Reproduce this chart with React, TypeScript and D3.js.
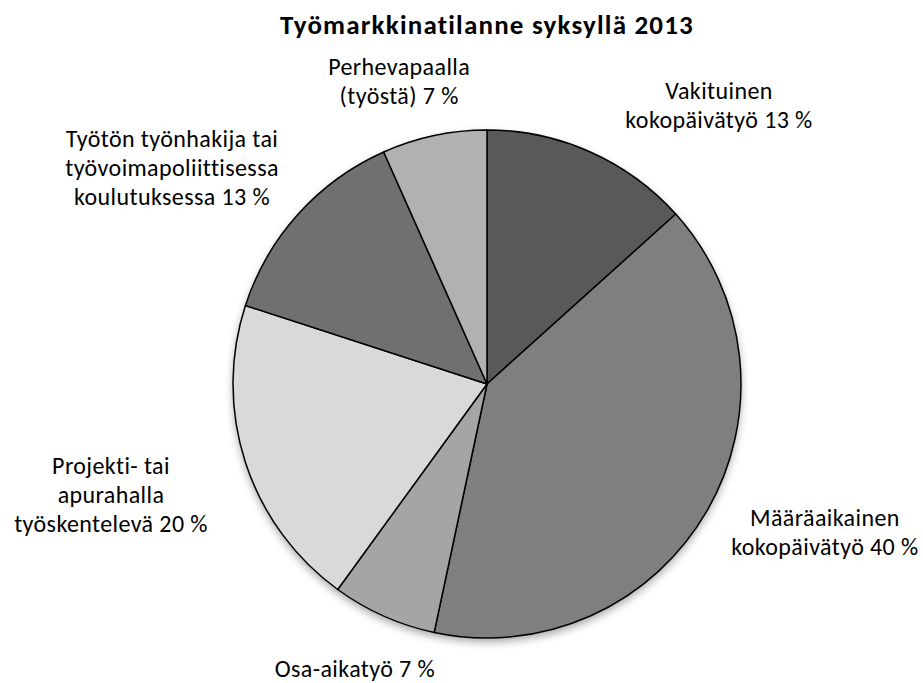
import React from 'react';
import * as d3 from 'd3';

// chart data
const title = 'Työmarkkinatilanne syksyllä 2013';
const categoryLines = [
  ['Vakituinen', 'kokopäivätyö'],
  ['Määräaikainen', 'kokopäivätyö'],
  ['Osa-aikatyö'],
  ['Projekti- tai', 'apurahalla', 'työskentelevä'],
  ['Työtön työnhakija tai', 'työvoimapoliittisessa', 'koulutuksessa'],
  ['Perhevapaalla', '(työstä)'],
];
const counts = [2, 6, 1, 3, 2, 1];
const sliceColors = ['#595959', '#7f7f7f', '#a5a5a5', '#d9d9d9', '#707070', '#b1b1b1'];

// layout: label position relative to slice mid-angle (Excel "best fit" look)
const labelAngleShift = [15.8, -6.2, 0.8, 1.5, -7.6, -4.2];
const labelDistance = [1.427, 1.454, 1.24, 1.544, 1.503, 1.24];

const W = 923;
const H = 683;
const cx = 487;
const cy = 384;
const r = 254;
const fontFamily = 'Calibri, Carlito, Lato, sans-serif';
const fontSize = 24;
const lineHeight = 29;

export default function App() {
  const total = d3.sum(counts);
  const pie = d3.pie<number>().sort(null).value((d) => d);
  const arcs = pie(counts);
  const arc = d3.arc<d3.PieArcDatum<number>>().innerRadius(0).outerRadius(r);

  return (
    <svg width={W} height={H} style={{ position: 'absolute', left: 0, top: 0 }}>
      <defs>
        <filter id="shadow" x="-20%" y="-20%" width="140%" height="140%">
          <feDropShadow dx="0" dy="4" stdDeviation="4" floodColor="#000" floodOpacity="0.35" />
        </filter>
      </defs>
      <rect width={W} height={H} fill="#fff" />
      <text
        x={cx}
        y={34}
        textAnchor="middle"
        fontFamily={fontFamily}
        fontWeight="bold"
        fontSize={27}
        letterSpacing={1.2}
        fill="#000"
      >
        {title}
      </text>
      <g transform={`translate(${cx},${cy})`}>
        <circle r={r} fill="#fff" filter="url(#shadow)" />
        {arcs.map((a, i) => (
          <path key={i} d={arc(a) || ''} fill={sliceColors[i]} stroke="#000" strokeWidth={1.5} strokeLinejoin="round" />
        ))}
        {arcs.map((a, i) => {
          const mid = (a.startAngle + a.endAngle) / 2 + (labelAngleShift[i] * Math.PI) / 180;
          const dist = labelDistance[i] * r;
          const lx = Math.sin(mid) * dist;
          const ly = -Math.cos(mid) * dist;
          const pct = Math.round((counts[i] / total) * 100);
          const lines = categoryLines[i].slice();
          lines[lines.length - 1] = `${lines[lines.length - 1]} ${pct} %`;
          const n = lines.length;
          return (
            <text
              key={'l' + i}
              x={lx}
              y={ly}
              textAnchor="middle"
              fontFamily={fontFamily}
              fontSize={fontSize}
              letterSpacing={0.4}
              fill="#000"
            >
              {lines.map((t, j) => (
                <tspan key={j} x={lx} y={ly + (j - (n - 1) / 2) * lineHeight + 7.5}>
                  {t}
                </tspan>
              ))}
            </text>
          );
        })}
      </g>
    </svg>
  );
}
